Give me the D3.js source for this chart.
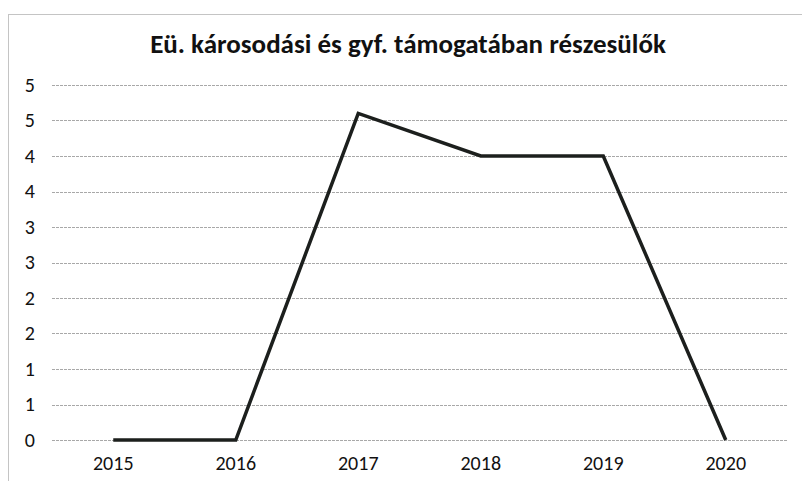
<!DOCTYPE html>
<html>
<head>
<meta charset="utf-8">
<script src="https://cdn.jsdelivr.net/npm/d3@7"></script>
<style>
  body { margin: 0; background: #fff; }
  svg { display: block; font-family: Carlito, Lato, sans-serif; }
</style>
</head>
<body>
<svg id="chart" width="802" height="481"></svg>
<script>
// data
const years = ["2015", "2016", "2017", "2018", "2019", "2020"];
const values = [0, 0, 4.6, 4, 4, 0];
const yTicks = [0, 0.5, 1, 1.5, 2, 2.5, 3, 3.5, 4, 4.5, 5];
const title = "Eü. károsodási és gyf. támogatában részesülők";

const margin = { top: 85, right: 15, bottom: 41, left: 52 };
const width = 802 - margin.left - margin.right;
const height = 481 - margin.top - margin.bottom;

const svg = d3.select("#chart");

// outer chart frame (faint, like the scan)
svg.append("rect")
  .attr("x", 8.5).attr("y", 14.5)
  .attr("width", 800).attr("height", 480)
  .attr("fill", "none")
  .attr("stroke", "#c4c4c4")
  .attr("stroke-width", 1);

svg.append("text")
  .attr("x", 408)
  .attr("y", 53)
  .attr("text-anchor", "middle")
  .attr("font-size", 27)
  .attr("font-weight", "bold")
  .attr("fill", "#111")
  .text(title);

const g = svg.append("g")
  .attr("transform", `translate(${margin.left}, ${margin.top})`);

const x = d3.scaleBand().domain(years).range([0, width]);
const y = d3.scaleLinear().domain([0, 5]).range([height, 0]);

// gridlines
g.append("g")
  .selectAll("line")
  .data(yTicks)
  .join("line")
  .attr("x1", 0)
  .attr("x2", width)
  .attr("y1", (d) => Math.round(y(d)) + 0.5)
  .attr("y2", (d) => Math.round(y(d)) + 0.5)
  .attr("stroke", "#a8a8a8")
  .attr("stroke-width", 1)
  .attr("stroke-dasharray", "3,1");

// y axis labels (Excel rounds 0.5 steps to whole numbers)
const yAxis = g.append("g")
  .call(d3.axisLeft(y).tickValues(yTicks).tickFormat((d) => Math.round(d)).tickSize(0).tickPadding(17));
yAxis.select(".domain").remove();
yAxis.selectAll("text")
  .attr("font-family", "Carlito, Lato, sans-serif")
  .attr("font-size", 20)
  .attr("fill", "#111");

// x axis labels
const xAxis = g.append("g")
  .attr("transform", `translate(0, ${height})`)
  .call(d3.axisBottom(x).tickSize(0).tickPadding(16));
xAxis.select(".domain").remove();
xAxis.selectAll("text")
  .attr("font-family", "Carlito, Lato, sans-serif")
  .attr("font-size", 20)
  .attr("fill", "#111");

// the line
const line = d3.line()
  .x((d, i) => x(years[i]) + x.bandwidth() / 2)
  .y((d) => y(d));

g.append("path")
  .datum(values)
  .attr("d", line)
  .attr("fill", "none")
  .attr("stroke", "#1c1f1d")
  .attr("stroke-width", 3.5)
  .attr("stroke-linejoin", "miter");
</script>
</body>
</html>
